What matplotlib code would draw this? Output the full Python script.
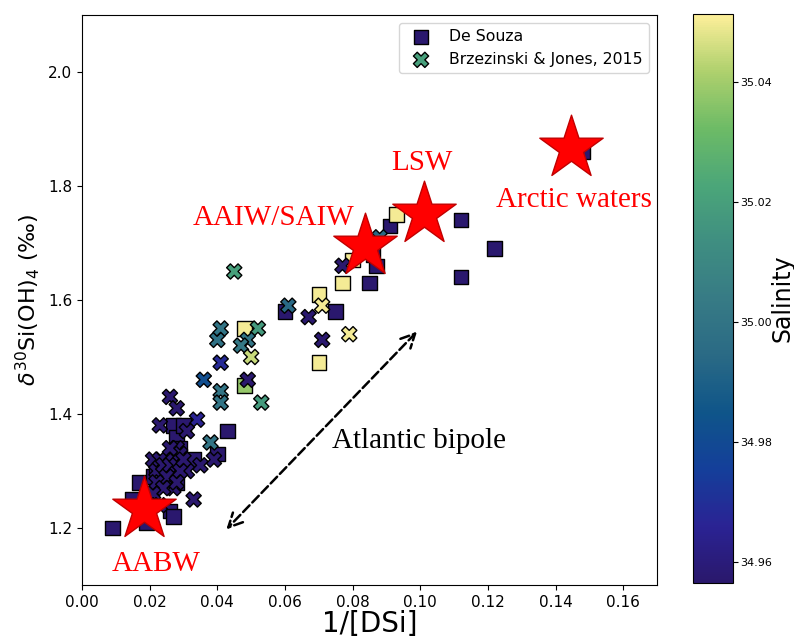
#!/usr/bin/env python3
""" d30Si vs 1/[DSi] scatter coloured by salinity, with water mass end-members """
import numpy as np
import matplotlib.pyplot as plt
from matplotlib.colors import LinearSegmentedColormap

# De Souza (squares)
ds_x = [0.009, 0.015, 0.017, 0.019, 0.020, 0.021, 0.022, 0.026, 0.027, 0.027,
        0.028, 0.029, 0.030, 0.028, 0.033, 0.040, 0.043, 0.048, 0.048, 0.060,
        0.070, 0.070, 0.075, 0.077, 0.080, 0.085, 0.087, 0.086, 0.091, 0.093,
        0.112, 0.112, 0.122, 0.148]
ds_y = [1.20, 1.25, 1.28, 1.21, 1.25, 1.29, 1.31, 1.23, 1.22, 1.38,
        1.36, 1.34, 1.38, 1.28, 1.32, 1.33, 1.37, 1.45, 1.55, 1.58,
        1.61, 1.49, 1.58, 1.63, 1.67, 1.63, 1.66, 1.68, 1.73, 1.75,
        1.74, 1.64, 1.69, 1.86]
ds_sal = [34.957, 34.957, 34.957, 34.957, 34.957, 34.957, 34.957, 34.957, 34.957, 34.957,
          34.957, 34.957, 34.957, 34.957, 34.957, 34.957, 34.957, 35.038, 35.050, 34.957,
          35.050, 35.050, 34.957, 35.050, 35.050, 34.957, 34.957, 34.957, 34.957, 35.050,
          34.957, 34.957, 34.957, 34.957]

# Brzezinski & Jones, 2015 (crosses)
bj_x = [0.045, 0.061, 0.067, 0.071, 0.071, 0.079, 0.077, 0.088, 0.052, 0.049,
        0.047, 0.040, 0.041, 0.050, 0.041, 0.049, 0.036, 0.041, 0.041, 0.053,
        0.026, 0.028, 0.023, 0.034, 0.031, 0.038, 0.039, 0.035, 0.033, 0.031,
        0.021, 0.023, 0.022, 0.024, 0.026, 0.027, 0.028, 0.029, 0.028, 0.027,
        0.025, 0.029, 0.027, 0.028, 0.022, 0.024, 0.021, 0.023, 0.030, 0.026]
bj_y = [1.65, 1.59, 1.57, 1.59, 1.53, 1.54, 1.66, 1.71, 1.55, 1.53,
        1.52, 1.53, 1.55, 1.50, 1.49, 1.46, 1.46, 1.44, 1.42, 1.42,
        1.43, 1.41, 1.38, 1.39, 1.37, 1.35, 1.32, 1.31, 1.25, 1.30,
        1.32, 1.32, 1.30, 1.31, 1.31, 1.33, 1.34, 1.33, 1.31, 1.29,
        1.29, 1.30, 1.27, 1.28, 1.28, 1.27, 1.26, 1.24, 1.32, 1.34]
bj_sal = [35.020, 34.994, 34.957, 35.050, 34.957, 35.050, 34.957, 34.994, 35.018, 35.000,
          35.002, 34.998, 35.000, 35.045, 34.968, 34.957, 34.982, 35.000, 35.000, 35.018,
          34.957, 34.957, 34.957, 34.966, 34.957, 35.000, 34.957, 34.957, 34.957, 34.957,
          34.957, 34.957, 34.957, 34.957, 34.957, 34.957, 34.957, 34.957, 34.957, 34.957,
          34.957, 34.957, 34.957, 34.957, 34.957, 34.957, 34.957, 34.957, 34.957, 34.957]

# end-member water masses
wm_names = ["AABW", "AAIW/SAIW", "LSW", "Arctic waters"]
wm_x = [0.0183, 0.0838, 0.101, 0.1446]
wm_y = [1.234, 1.694, 1.751, 1.866]
wm_label_x = [0.0219, 0.0565, 0.1005, 0.1455]
wm_label_y = [1.137, 1.744, 1.84, 1.776]

# haline-like colormap
haline = LinearSegmentedColormap.from_list("haline", [
    "#2a186c", "#2a2394", "#143f9a", "#0f5589", "#2a6a85", "#377b85",
    "#3f8e81", "#4ba679", "#6dbb66", "#aed06d", "#fdef9a"])

fig = plt.figure(figsize=(7.94, 6.38), dpi=100)
ax = fig.add_axes([0.1033, 0.0831, 0.7242, 0.8934])
cax = fig.add_axes([0.8728, 0.0862, 0.0504, 0.8918])

vmin, vmax = 34.9565, 35.0513
sc = ax.scatter(ds_x, ds_y, c=ds_sal, cmap=haline, vmin=vmin, vmax=vmax, marker='s',
                s=110, edgecolors='black', linewidths=1, label='De Souza', zorder=3)
ax.scatter(bj_x, bj_y, c=bj_sal, cmap=haline, vmin=vmin, vmax=vmax, marker='X',
           s=120, edgecolors='black', linewidths=1, label='Brzezinski & Jones, 2015', zorder=4)

ax.scatter(wm_x, wm_y, marker='*', s=2300, c='red', edgecolors='#c00000',
           linewidths=1, zorder=5)
for name, lx, ly in zip(wm_names, wm_label_x, wm_label_y):
    ax.text(lx, ly, name, color='red', fontsize=21, family='Liberation Serif',
            ha='center', va='center', zorder=6)

ax.annotate('', xy=(0.0421, 1.194), xytext=(0.0996, 1.548),
            arrowprops=dict(arrowstyle='<->', linestyle='--', lw=1.8, color='black',
                            mutation_scale=25))
ax.text(0.0997, 1.353, 'Atlantic bipole', fontsize=21, family='Liberation Serif',
        ha='center', va='center')

ax.set_xlim(0, 0.17)
ax.set_ylim(1.1, 2.1)
ax.set_xticks(np.arange(0, 0.161, 0.02))
ax.set_yticks([1.2, 1.4, 1.6, 1.8, 2.0])
ax.tick_params(labelsize=11)
ax.set_xlabel('1/[DSi]', fontsize=20, labelpad=0)
ax.set_ylabel(r'$\delta^{30}$Si(OH)$_4$ (‰)', fontsize=16)

leg = ax.legend(loc='upper right', fontsize=11.3)
leg.legend_handles[0].set_facecolor(haline(0.0))
leg.legend_handles[1].set_facecolor(haline(0.33))

cbar = fig.colorbar(sc, cax=cax)
cbar.set_ticks([34.96, 34.98, 35.00, 35.02, 35.04])
cbar.ax.tick_params(labelsize=8, pad=1.5)
cbar.set_label('Salinity', fontsize=17)
cbar.ax.yaxis.label.set_va('center')
cbar.ax.yaxis.set_label_coords(2.23, 0.5)

fig.savefig('out.png', dpi=100)
